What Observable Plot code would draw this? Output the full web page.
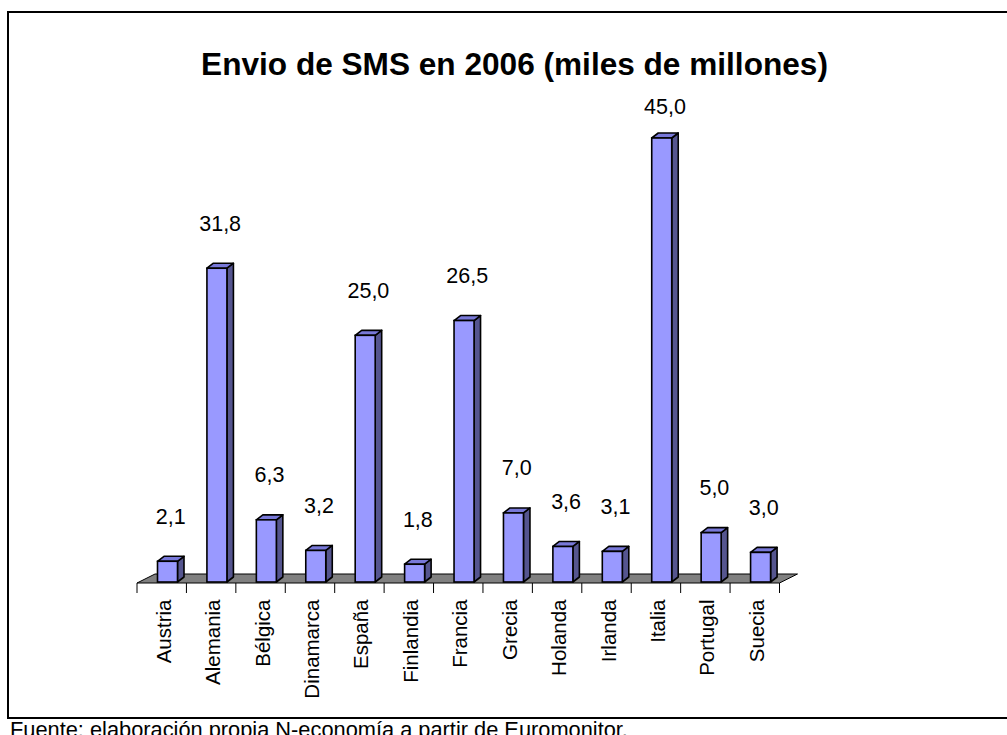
<!DOCTYPE html>
<html><head><meta charset="utf-8">
<script src="https://cdn.jsdelivr.net/npm/d3@7"></script>
<script src="https://cdn.jsdelivr.net/npm/@observablehq/plot@0.6"></script>
<style>
html,body{margin:0;padding:0;background:#fff;}
#wrap{position:relative;width:1007px;height:735px;overflow:hidden;font-family:Arial,"Liberation Sans",sans-serif;}
#frame{position:absolute;left:7px;top:11px;width:1100px;height:704px;border:2.5px solid #000;box-sizing:content-box;}
#chart{position:absolute;left:0;top:0;}
#footer{position:absolute;left:10px;top:718.5px;font-size:21.8px;line-height:1;color:#000;white-space:nowrap;}
</style></head>
<body>
<div id="wrap"><div id="frame"></div><div id="chart"></div><div id="footer"></div></div>
<script>
const countries = ["Austria","Alemania","Bélgica","Dinamarca","España","Finlandia","Francia","Grecia","Holanda","Irlanda","Italia","Portugal","Suecia"];
const values = [2.1, 31.8, 6.3, 3.2, 25.0, 1.8, 26.5, 7.0, 3.6, 3.1, 45.0, 5.0, 3.0];
const valueLabels = ["2,1","31,8","6,3","3,2","25,0","1,8","26,5","7,0","3,6","3,1","45,0","5,0","3,0"];
const title = "Envio de SMS en 2006 (miles de millones)";
const source = "Fuente: elaboración propia N-economía a partir de Euromonitor.";

const data = countries.map((c, i) => ({country: c, value: values[i], label: valueLabels[i]}));
const font = "Arial, 'Liberation Sans', sans-serif";
const svgNS = "http://www.w3.org/2000/svg";

function poly(pts, fill, sw) {
  const p = document.createElementNS(svgNS, "polygon");
  p.setAttribute("points", pts.map(q => q.join(",")).join(" "));
  p.setAttribute("fill", fill);
  p.setAttribute("stroke", "#000");
  p.setAttribute("stroke-width", sw);
  p.setAttribute("stroke-linejoin", "round");
  return p;
}

// floor and category ticks, derived from the x and y scales
function floorMark(index, scales) {
  const x = scales.x, y = scales.y;
  const bw = x(countries[1]) - x(countries[0]);
  const xl = x(countries[0]), xr = x(countries[countries.length - 1]) + bw;
  const y0 = y(0) + 1;
  const g = document.createElementNS(svgNS, "g");
  g.appendChild(poly([[xl, y0], [xr, y0], [xr + 18, y0 - 9], [xl + 18, y0 - 9]], "#808080", 1));
  for (let i = 0; i <= countries.length; i++) {
    const xt = xl + i * bw;
    const l = document.createElementNS(svgNS, "line");
    l.setAttribute("x1", xt); l.setAttribute("x2", xt);
    l.setAttribute("y1", y0); l.setAttribute("y2", y0 + 10);
    l.setAttribute("stroke", "#000"); l.setAttribute("stroke-width", 1);
    g.appendChild(l);
  }
  return g;
}

// 3D side and top faces of the bars
const INSET_L = 20.5, FACE_W = 20, DX = 6.5, DY = 5;
function bar3dMark(index, scales) {
  const x = scales.x, y = scales.y;
  const g = document.createElementNS(svgNS, "g");
  for (const d of data) {
    const x0 = x(d.country) + INSET_L, x1 = x0 + FACE_W;
    const yt = y(d.value), yb = y(0);
    g.appendChild(poly([[x1, yt], [x1 + DX, yt - DY], [x1 + DX, yb - DY], [x1, yb]], "#55558f", 1.6));
    g.appendChild(poly([[x0, yt], [x1, yt], [x1 + DX, yt - DY], [x0 + DX, yt - DY]], "#7878d8", 1.6));
  }
  return g;
}

const chart = Plot.plot({
  width: 1007,
  height: 718,
  margin: 0,
  style: {fontFamily: font, background: "transparent", overflow: "visible", color: "#000"},
  x: {domain: countries, range: [137, 779.5], padding: 0, round: false, axis: null},
  y: {domain: [0, 45], range: [582, 138], axis: null},
  marks: [
    floorMark,
    bar3dMark,
    Plot.barY(data, {x: "country", y: "value", fill: "#9999FF", stroke: "#000", strokeWidth: 1.6,
      insetLeft: INSET_L, insetRight: (779.5 - 137) / 13 - INSET_L - FACE_W}),
    Plot.text(data, {x: "country", y: d => Math.min(d.value, 43.6), text: "label", dx: 8.5, dy: -45,
      fontSize: 21.5, fill: "#000"}),
    Plot.text(data, {x: "country", y: () => 0, text: "country", rotate: -90, textAnchor: "end",
      dx: 2, dy: 17, fontSize: 20.5, fill: "#000"}),
    Plot.text([title], {frameAnchor: "top", text: d => d, dx: 10.5, dy: 74.5, lineAnchor: "bottom",
      fontSize: 31.6, fontWeight: "bold", fill: "#000"})
  ]
});
document.getElementById("chart").appendChild(chart);
document.getElementById("footer").textContent = source;
</script>
</body></html>
